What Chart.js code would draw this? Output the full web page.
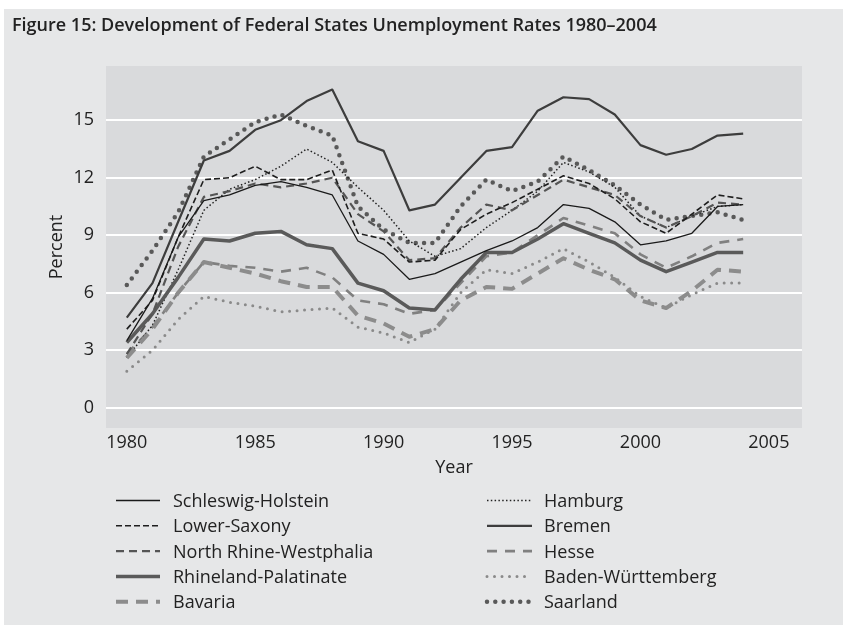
<!DOCTYPE html>
<html>
<head>
<meta charset="utf-8">
<script src="https://cdn.jsdelivr.net/npm/chart.js@4.4.1/dist/chart.umd.min.js"></script>
<style>
  html, body { margin: 0; padding: 0; background: #fff; }
  canvas { display: block; }
</style>
</head>
<body>
<canvas id="chart" width="843" height="625"></canvas>
<script>
// data (percent)
var years = [1980, 1981, 1982, 1983, 1984, 1985, 1986, 1987, 1988, 1989, 1990, 1991, 1992,
             1993, 1994, 1995, 1996, 1997, 1998, 1999, 2000, 2001, 2002, 2003, 2004];
var xTicks = [1980, 1985, 1990, 1995, 2000, 2005];
var yTicks = [0, 3, 6, 9, 12, 15];

var schleswigHolstein = [3.5, 5.7, 8.9, 10.8, 11.1, 11.6, 11.8, 11.5, 11.1, 8.7, 8.0, 6.7, 7.0, 7.6, 8.2, 8.7, 9.4, 10.6, 10.4, 9.7, 8.5, 8.7, 9.1, 10.5, 10.6];
var hamburg = [2.6, 4.3, 7.2, 10.3, 11.4, 11.9, 12.6, 13.5, 12.8, 11.5, 10.3, 8.7, 7.9, 8.3, 9.4, 10.3, 11.3, 12.8, 12.3, 11.5, 10.0, 9.4, 10.0, 10.5, 10.6];
var lowerSaxony = [4.1, 5.6, 8.9, 11.9, 12.0, 12.6, 11.9, 11.9, 12.4, 9.1, 8.8, 7.6, 7.7, 9.3, 10.1, 10.7, 11.4, 12.1, 11.7, 10.9, 9.7, 9.1, 10.1, 11.1, 10.9];
var bremen = [4.7, 6.5, 9.7, 12.9, 13.4, 14.5, 15.0, 16.0, 16.6, 13.9, 13.4, 10.3, 10.6, 12.0, 13.4, 13.6, 15.5, 16.2, 16.1, 15.3, 13.7, 13.2, 13.5, 14.2, 14.3];
var northRhineWestphalia = [2.8, 4.9, 8.4, 11.0, 11.3, 11.7, 11.5, 11.7, 12.0, 10.1, 9.2, 7.7, 7.8, 9.4, 10.6, 10.3, 11.1, 11.9, 11.5, 11.1, 10.0, 9.4, 10.0, 10.7, 10.6];
var hesse = [2.8, 4.2, 6.0, 7.6, 7.4, 7.3, 7.1, 7.3, 6.8, 5.6, 5.4, 4.9, 5.1, 6.5, 7.9, 8.1, 9.0, 9.9, 9.5, 9.1, 8.0, 7.3, 7.9, 8.6, 8.8];
var rhinelandPalatinate = [3.4, 4.9, 6.8, 8.8, 8.7, 9.1, 9.2, 8.5, 8.3, 6.5, 6.1, 5.2, 5.1, 6.7, 8.1, 8.1, 8.8, 9.6, 9.1, 8.6, 7.7, 7.1, 7.6, 8.1, 8.1];
var badenWuerttemberg = [1.9, 3.0, 4.6, 5.8, 5.5, 5.3, 5.0, 5.1, 5.2, 4.2, 3.9, 3.4, 4.1, 6.0, 7.2, 7.0, 7.6, 8.3, 7.6, 6.8, 5.8, 5.2, 5.9, 6.5, 6.5];
var bavaria = [2.6, 4.1, 6.0, 7.6, 7.3, 7.0, 6.6, 6.3, 6.3, 4.8, 4.4, 3.7, 4.1, 5.6, 6.3, 6.2, 7.0, 7.8, 7.2, 6.7, 5.6, 5.2, 6.1, 7.2, 7.1];
var saarland = [6.4, 8.2, 10.2, 13.1, 14.0, 14.9, 15.3, 14.7, 14.2, 10.5, 9.3, 8.6, 8.6, 10.5, 11.9, 11.3, 11.8, 13.1, 12.4, 11.6, 10.6, 9.8, 10.0, 10.2, 9.8];

var FONT = '"Open Sans", "DejaVu Sans", sans-serif';
var TEXT = '#222222';

// line styles, legend columns: left then right
var series = [
  { label: 'Schleswig-Holstein', data: schleswigHolstein, color: '#1a1a1a', width: 1.3, dash: [], cap: 'butt', col: 0 },
  { label: 'Lower-Saxony', data: lowerSaxony, color: '#1e1e1e', width: 1.6, dash: [6, 3], cap: 'butt', col: 0 },
  { label: 'North Rhine-Westphalia', data: northRhineWestphalia, color: '#555555', width: 2.2, dash: [8, 5], cap: 'butt', col: 0 },
  { label: 'Rhineland-Palatinate', data: rhinelandPalatinate, color: '#5a5a5a', width: 3.5, dash: [], cap: 'butt', col: 0 },
  { label: 'Bavaria', data: bavaria, color: '#8c8c8c', width: 4, dash: [12, 8], cap: 'butt', col: 0 },
  { label: 'Hamburg', data: hamburg, color: '#222222', width: 1.5, dash: [1.5, 2.3], cap: 'butt', col: 1 },
  { label: 'Bremen', data: bremen, color: '#3d3d3d', width: 2.2, dash: [], cap: 'butt', col: 1 },
  { label: 'Hesse', data: hesse, color: '#808080', width: 2.6, dash: [10, 8], cap: 'butt', col: 1 },
  { label: 'Baden-Württemberg', data: badenWuerttemberg, color: '#8a8a8a', width: 3, dash: [0, 7.5], cap: 'round', col: 1 },
  { label: 'Saarland', data: saarland, color: '#595959', width: 4.5, dash: [0, 8.3], cap: 'round', col: 1 }
];

var datasets = series.map(function (s) {
  return {
    label: s.label,
    data: years.map(function (y, i) { return { x: y, y: s.data[i] }; }),
    borderColor: s.color,
    borderWidth: s.width,
    borderDash: s.dash,
    borderCapStyle: s.cap,
    borderJoinStyle: 'round',
    pointRadius: 0,
    fill: false,
    tension: 0
  };
});

var backdrop = {
  id: 'backdrop',
  beforeDraw: function (chart) {
    var ctx = chart.ctx, a = chart.chartArea;
    ctx.save();
    ctx.fillStyle = '#ffffff';
    ctx.fillRect(0, 0, chart.width, chart.height);
    ctx.fillStyle = '#e6e7e8';
    ctx.fillRect(4, 9, chart.width - 4, chart.height - 9);
    ctx.fillStyle = '#d9dadc';
    ctx.fillRect(a.left, a.top, a.right - a.left, a.bottom - a.top);
    ctx.restore();
  }
};

// two-column legend under the plot
var sideLegend = {
  id: 'sideLegend',
  afterDraw: function (chart) {
    var ctx = chart.ctx;
    var cols = [{ x1: 116, x2: 160, tx: 173 }, { x1: 487, x2: 532, tx: 544 }];
    var rows = [0, 0];
    ctx.save();
    ctx.font = '18px ' + FONT;
    ctx.textBaseline = 'alphabetic';
    ctx.fillStyle = TEXT;
    series.forEach(function (s) {
      var c = cols[s.col];
      var y = 500.5 + rows[s.col] * 25.3;
      rows[s.col]++;
      ctx.beginPath();
      ctx.strokeStyle = s.color;
      ctx.lineWidth = s.width;
      ctx.setLineDash(s.dash);
      ctx.lineCap = s.cap;
      ctx.moveTo(c.x1, y);
      ctx.lineTo(c.x2, y);
      ctx.stroke();
      ctx.setLineDash([]);
      ctx.fillText(s.label, c.tx, y + 6.5);
    });
    ctx.restore();
  }
};

new Chart(document.getElementById('chart'), {
  type: 'line',
  data: { datasets: datasets },
  plugins: [backdrop, sideLegend],
  options: {
    responsive: false,
    devicePixelRatio: 1,
    animation: false,
    layout: { padding: { left: 12, right: 41, top: 0, bottom: 146 } },
    plugins: {
      legend: { display: false },
      tooltip: { enabled: false },
      title: {
        display: true,
        align: 'start',
        text: 'Figure 15: Development of Federal States Unemployment Rates 1980–2004',
        color: TEXT,
        font: { family: FONT, size: 18, weight: '600', lineHeight: 1.2 },
        padding: { top: 15, bottom: 29.4 }
      }
    },
    scales: {
      x: {
        type: 'linear',
        min: 1979.19,
        max: 2006.29,
        afterFit: function (axis) { axis.height = 51; },
        afterBuildTicks: function (axis) {
          axis.ticks = xTicks.map(function (v) { return { value: v }; });
        },
        grid: { display: false },
        border: { display: false },
        ticks: {
          color: TEXT,
          padding: -4,
          maxRotation: 0,
          font: { family: FONT, size: 18 },
          callback: function (v) { return String(v); }
        },
        title: {
          display: true,
          text: 'Year',
          color: TEXT,
          font: { family: FONT, size: 18, lineHeight: 1.2 },
          padding: { top: 0, bottom: 0 }
        }
      },
      y: {
        min: -1.06,
        max: 17.83,
        afterFit: function (axis) { axis.width = 94; },
        afterBuildTicks: function (axis) {
          axis.ticks = yTicks.map(function (v) { return { value: v }; });
        },
        grid: { color: '#ffffff', lineWidth: 2, drawTicks: false },
        border: { display: false },
        ticks: {
          color: TEXT,
          padding: 12,
          font: { family: FONT, size: 18 }
        },
        title: {
          display: true,
          text: 'Percent',
          color: TEXT,
          font: { family: FONT, size: 18, lineHeight: 1.2 },
          padding: { top: 34, bottom: 0 }
        }
      }
    }
  }
});
</script>
</body>
</html>
